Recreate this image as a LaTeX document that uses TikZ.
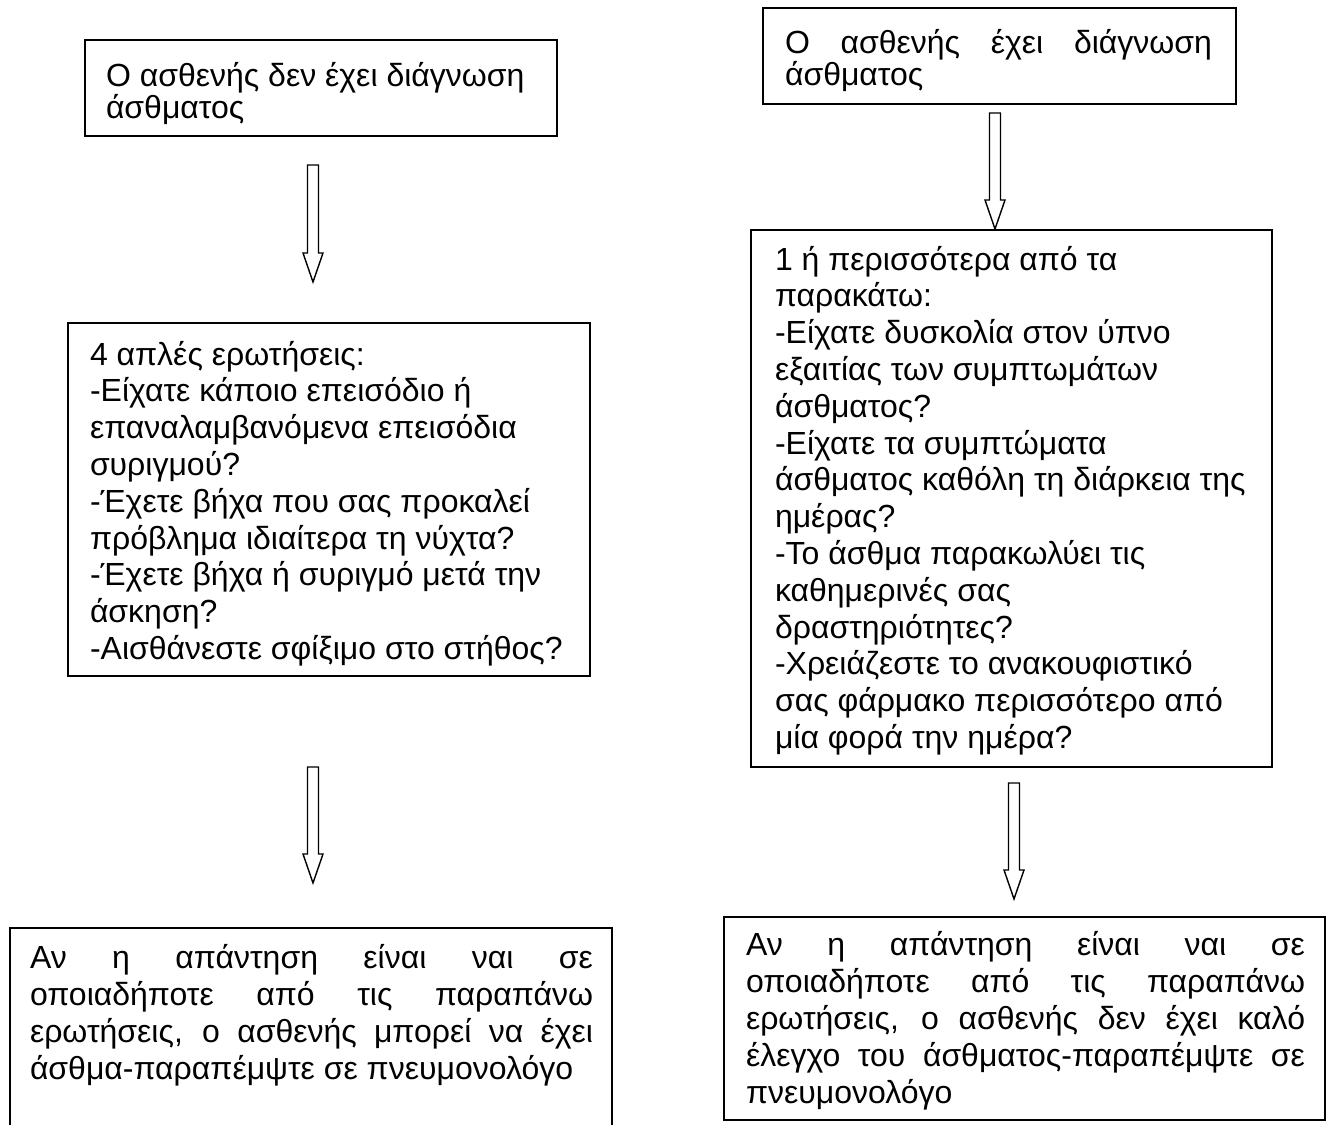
\documentclass[tikz,border=0pt]{standalone}
\usepackage{fontspec}
\setmainfont{Liberation Sans}
\usetikzlibrary{calc}
\begin{document}
\begin{tikzpicture}[x=1pt,y=-1pt,
  box/.style={draw, line width=1.5pt, inner sep=0pt, outer sep=0pt, anchor=north west},
  txt/.style={inner sep=0pt, outer sep=0pt, anchor=base west, font=\fontsize{32}{36.8}\selectfont},
  blockarrow/.style={draw, line width=1.4pt, line join=miter,
    to path={let \p1=(\tikztostart), \p2=(\tikztotarget) in
      (\x1-5.5pt,\y1) -- (\x1+5.5pt,\y1) -- (\x1+5.5pt,\y2+29pt) -- (\x1+10pt,\y2+29pt)
      -- (\x1,\y2) -- (\x1-10pt,\y2+29pt) -- (\x1-5.5pt,\y2+29pt) -- cycle}}]
\useasboundingbox (0,0) rectangle (1332,1124);
\fill[white] (0,0) rectangle (1332,1124);
\clip (0,0) rectangle (1332,1124);

% boxes
\node[box, minimum width=472pt, minimum height=96pt] (A) at (85,40) {};
\node[box, minimum width=522pt, minimum height=353pt] (B) at (68,323) {};
\node[box, minimum width=602pt, minimum height=260pt] (C) at (10,928) {};
\node[box, minimum width=473pt, minimum height=96pt] (D) at (763,8) {};
\node[box, minimum width=521pt, minimum height=537pt] (E) at (751,230) {};
\node[box, minimum width=601pt, minimum height=203pt] (F) at (724,917) {};

% texts
\node[txt] (At) at (106,86) {\parbox[t]{600pt}{\baselineskip=32pt
Ο ασθενής δεν έχει διάγνωση\\
άσθματος}};

\node[txt] (Bt) at (90,365) {\parbox[t]{600pt}{\baselineskip=36.8pt
4 απλές ερωτήσεις:\\
-Είχατε κάποιο επεισόδιο ή\\
επαναλαμβανόμενα επεισόδια\\
συριγμού?\\
-Έχετε βήχα που σας προκαλεί\\
πρόβλημα ιδιαίτερα τη νύχτα?\\
-Έχετε βήχα ή συριγμό μετά την\\
άσκηση?\\
-Αισθάνεστε σφίξιμο στο στήθος?}};

\node[txt] (Ct) at (30,968) {\parbox[t]{650pt}{\baselineskip=37pt
\makebox[563pt][s]{Αν η απάντηση είναι ναι σε}\\
\makebox[563pt][s]{οποιαδήποτε από τις παραπάνω}\\
\makebox[563pt][s]{ερωτήσεις, ο ασθενής μπορεί να έχει}\\
άσθμα-παραπέμψτε σε πνευμονολόγο}};

\node[txt] (Dt) at (785,54) {\parbox[t]{600pt}{\baselineskip=32pt
\makebox[427pt][s]{Ο ασθενής έχει διάγνωση}\\
άσθματος}};

\node[txt] (Et) at (775,270) {\parbox[t]{600pt}{\baselineskip=36.8pt
1 ή περισσότερα από τα\\
παρακάτω:\\
-Είχατε δυσκολία στον ύπνο\\
εξαιτίας των συμπτωμάτων\\
άσθματος?\\
-Είχατε τα συμπτώματα\\
άσθματος καθόλη τη διάρκεια της\\
ημέρας?\\
-Το άσθμα παρακωλύει τις\\
καθημερινές σας\\
δραστηριότητες?\\
-Χρειάζεστε το ανακουφιστικό\\
σας φάρμακο περισσότερο από\\
μία φορά την ημέρα?}};

\node[txt] (Ft) at (746,955) {\parbox[t]{650pt}{\baselineskip=37pt
\makebox[559pt][s]{Αν η απάντηση είναι ναι σε}\\
\makebox[559pt][s]{οποιαδήποτε από τις παραπάνω}\\
\makebox[559pt][s]{ερωτήσεις, ο ασθενής δεν έχει καλό}\\
\makebox[559pt][s]{έλεγχο του άσθματος-παραπέμψτε σε}\\
πνευμονολόγο}};

% block arrows
\coordinate (a1s) at (313,165); \coordinate (a1e) at (313,282);
\coordinate (a2s) at (313,767); \coordinate (a2e) at (313,883);
\coordinate (a3s) at (995,113); \coordinate (a3e) at (995,229);
\coordinate (a4s) at (1014,783); \coordinate (a4e) at (1014,899);
\draw[blockarrow] (a1s) to (a1e);
\draw[blockarrow] (a2s) to (a2e);
\draw[blockarrow] (a3s) to (a3e);
\draw[blockarrow] (a4s) to (a4e);
\end{tikzpicture}
\end{document}
